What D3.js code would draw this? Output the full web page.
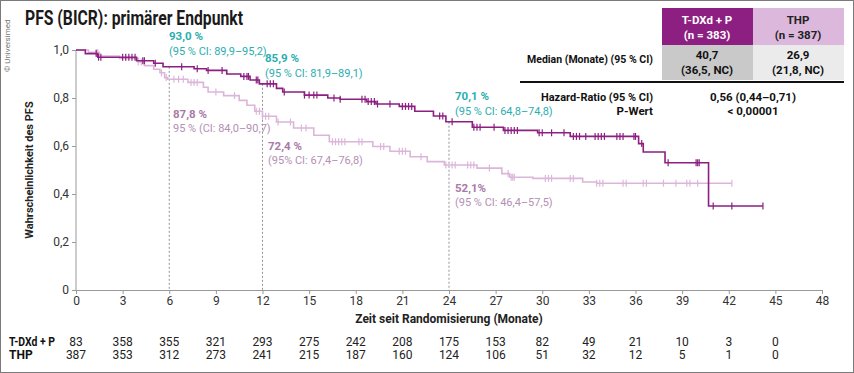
<!DOCTYPE html>
<html>
<head>
<meta charset="utf-8">
<script src="https://cdn.jsdelivr.net/npm/d3@7"></script>
<style>
  body { margin: 0; background: #fff; }
  svg { font-family: Roboto, "Noto Sans", sans-serif; display: block; }
</style>
</head>
<body>
<svg id="chart"></svg>
<script>
const width = 854;
const height = 373;

// KM steps: time (months) and survival after the drop
const tdxdTimes = [0.6, 1.4, 3.9, 5.0, 5.6, 7.6, 8.4, 9.7, 10.6, 11.2, 11.8, 12.9, 13.3, 14.7, 16.2, 17.0, 18.7, 19.3, 20.8, 21.8, 23.0, 23.8, 25.5, 27.5, 29.7, 31.8, 36.2, 36.5, 37.9, 40.7];
const tdxdSurv  = [0.985, 0.97, 0.955, 0.945, 0.93, 0.922, 0.915, 0.9, 0.89, 0.875, 0.859, 0.84, 0.825, 0.812, 0.80, 0.795, 0.785, 0.775, 0.765, 0.745, 0.725, 0.701, 0.678, 0.665, 0.655, 0.64, 0.61, 0.575, 0.53, 0.35];
const tdxdEnd = 44.2;
const tdxdCensor = [1.3, 1.45, 1.6, 3.0, 3.2, 3.4, 3.6, 3.8, 4.3, 4.4, 5.1, 6.8, 7.8, 8.5, 9.4, 10.8, 11.0, 11.1, 11.6, 11.7, 12.3, 12.5, 12.7, 13.4, 14.7, 15.0, 15.3, 15.5, 16.6, 17.0, 18.4, 18.6, 18.8, 19.0, 19.2, 19.4, 20.2, 21.0, 21.2, 21.4, 21.6, 23.4, 23.6, 24.2, 25.6, 25.8, 26.0, 26.9, 27.6, 27.8, 28.0, 28.2, 28.4, 29.8, 30.0, 30.6, 31.4, 32.0, 32.2, 32.4, 32.8, 33.4, 33.6, 33.8, 34.0, 34.8, 35.0, 35.2, 35.9, 36.0, 36.4, 38.1, 39.9, 40.0, 40.1, 41.0, 42.2, 44.2];

const thpTimes = [0.8, 1.5, 2.8, 4.0, 4.4, 5.0, 5.4, 5.7, 5.9, 7.2, 8.2, 8.5, 9.5, 10.5, 11.0, 11.5, 12.0, 12.9, 14.0, 15.3, 16.3, 19.1, 20.2, 21.5, 22.6, 23.7, 25.8, 27.4, 27.9, 29.4, 32.6, 33.5];
const thpSurv  = [0.99, 0.975, 0.965, 0.95, 0.935, 0.92, 0.905, 0.885, 0.878, 0.865, 0.845, 0.825, 0.81, 0.79, 0.77, 0.745, 0.724, 0.70, 0.675, 0.645, 0.618, 0.598, 0.578, 0.555, 0.535, 0.521, 0.508, 0.485, 0.47, 0.465, 0.45, 0.445];
const thpEnd = 42.2;
const thpCensor = [1.3, 1.4, 4.0, 4.2, 5.5, 5.8, 6.3, 6.6, 6.9, 7.4, 7.6, 7.8, 9.0, 10.2, 11.6, 11.8, 12.0, 12.2, 12.4, 13.0, 13.8, 14.5, 14.8, 16.5, 16.7, 16.9, 17.1, 17.3, 18.2, 18.4, 19.6, 19.8, 20.8, 21.0, 21.2, 22.2, 23.8, 24.2, 24.4, 25.2, 25.4, 25.6, 26.6, 27.8, 28.0, 28.1, 28.2, 30.2, 30.4, 30.6, 31.8, 32.0, 33.5, 33.7, 33.9, 35.2, 35.4, 36.5, 36.7, 37.8, 38.6, 39.3, 39.5, 40.0, 42.2];

// ticks and number at risk
const xTicks = [0, 3, 6, 9, 12, 15, 18, 21, 24, 27, 30, 33, 36, 39, 42, 45, 48];
const yTicks = [0, 0.2, 0.4, 0.6, 0.8, 1.0];
const yTickLabels = ["0", "0,2", "0,4", "0,6", "0,8", "1,0"];
const riskTimes = [0, 3, 6, 9, 12, 15, 18, 21, 24, 27, 30, 33, 36, 39, 42, 45];
const riskTdxd = [83, 358, 355, 321, 293, 275, 242, 208, 175, 153, 82, 49, 21, 10, 3, 0];
const riskThp = [387, 353, 312, 273, 241, 215, 187, 160, 124, 106, 51, 32, 12, 5, 1, 0];

// landmark annotations
const landmarks = [6, 12, 24];
const tdxdLabels = ["93,0 %", "85,9 %", "70,1 %"];
const tdxdCI = ["(95 % CI: 89,9–95,2)", "(95 % CI: 81,9–89,1)", "(95 % CI: 64,8–74,8)"];
const thpLabels = ["87,8 %", "72,4 %", "52,1%"];
const thpCI = ["95 % (CI: 84,0–90,7)", "(95% CI: 67,4–76,8)", "(95 % CI: 46,4–57,5)"];

const darkCol = "#8c1f80";
const lightCol = "#dcb6da";
const teal = "#2aaeb0";
const lightText = "#a97aa8";
const lightCI = "#b58fb4";

const svg = d3.select("#chart").attr("width", width).attr("height", height);

const x = d3.scaleLinear().domain([0, 48]).range([76, 822]);
const y = d3.scaleLinear().domain([0, 1]).range([290, 50]);

// frame
svg.append("rect").attr("x", 0.5).attr("y", 0.5).attr("width", width - 1).attr("height", height - 1)
  .attr("fill", "none").attr("stroke", "#7a7a7a");

svg.append("text").attr("transform", "translate(10,72) rotate(-90)")
  .attr("font-size", 8).attr("fill", "#777").text("© Universimed");

svg.append("text").attr("x", 25).attr("y", 25).attr("font-size", 20).attr("font-weight", "bold")
  .attr("fill", "#1a1a1a").attr("textLength", 218).attr("lengthAdjust", "spacingAndGlyphs")
  .text("PFS (BICR): primärer Endpunkt");

// axes
const yAxis = svg.append("g").attr("transform", "translate(76,0)")
  .call(d3.axisLeft(y).tickValues(yTicks).tickSize(4).tickPadding(3)
    .tickFormat((d, i) => yTickLabels[i]));
const xAxis = svg.append("g").attr("transform", "translate(0,290)")
  .call(d3.axisBottom(x).tickValues(xTicks).tickSize(4).tickPadding(2));
[xAxis, yAxis].forEach(a => {
  a.select(".domain").attr("stroke", "#999");
  a.selectAll(".tick line").attr("stroke", "#999");
  a.selectAll("text").attr("font-size", 12).attr("fill", "#333").attr("font-family", "Roboto, sans-serif");
});
yAxis.select(".domain").attr("d", "M0,290V50");

svg.append("text").attr("transform", "translate(33,170) rotate(-90)").attr("text-anchor", "middle")
  .attr("font-size", 11).attr("font-weight", "bold").attr("fill", "#222").text("Wahrscheinlichkeit des PFS");
svg.append("text").attr("x", 449).attr("y", 323).attr("text-anchor", "middle")
  .attr("font-size", 12).attr("font-weight", "bold").attr("fill", "#222").text("Zeit seit Randomisierung (Monate)");

// landmark dotted lines
const tdxdAt = t => { let s = 1; tdxdTimes.forEach((tt, i) => { if (tt <= t) s = tdxdSurv[i]; }); return s; };
const thpAt = t => { let s = 1; thpTimes.forEach((tt, i) => { if (tt <= t) s = thpSurv[i]; }); return s; };

svg.append("g").selectAll("line").data(landmarks).join("line")
  .attr("x1", d => x(d)).attr("x2", d => x(d))
  .attr("y1", d => y(tdxdAt(d))).attr("y2", 290)
  .attr("stroke", "#777").attr("stroke-width", 0.8).attr("stroke-dasharray", "2,2");

// curves
const line = d3.line().x(d => x(d[0])).y(d => y(d[1])).curve(d3.curveStepAfter);
function drawCurve(times, surv, end, censor, col, at) {
  const pts = [[0, 1]].concat(times.map((t, i) => [t, surv[i]]));
  pts.push([end, surv[surv.length - 1]]);
  svg.append("path").datum(pts).attr("d", line).attr("fill", "none")
    .attr("stroke", col).attr("stroke-width", 1.6);
  svg.append("g").selectAll("line").data(censor).join("line")
    .attr("x1", d => x(d)).attr("x2", d => x(d))
    .attr("y1", d => y(at(d)) - 3.5).attr("y2", d => y(at(d)) + 3.5)
    .attr("stroke", col).attr("stroke-width", 1.2);
}
drawCurve(thpTimes, thpSurv, thpEnd, thpCensor, lightCol, thpAt);
drawCurve(tdxdTimes, tdxdSurv, tdxdEnd, tdxdCensor, darkCol, tdxdAt);

// annotations
const tdxdPos = [[169, 40], [265, 62], [455, 100]];
const thpPos = [[173, 118], [268, 150], [455, 192]];
landmarks.forEach((d, i) => {
  svg.append("text").attr("x", tdxdPos[i][0]).attr("y", tdxdPos[i][1]).attr("font-size", 11.5)
    .attr("font-weight", "bold").attr("fill", teal).text(tdxdLabels[i]);
  svg.append("text").attr("x", tdxdPos[i][0]).attr("y", tdxdPos[i][1] + 15).attr("font-size", 11)
    .attr("fill", teal).text(tdxdCI[i]);
  svg.append("text").attr("x", thpPos[i][0]).attr("y", thpPos[i][1]).attr("font-size", 11.5)
    .attr("font-weight", "bold").attr("fill", lightText).text(thpLabels[i]);
  svg.append("text").attr("x", thpPos[i][0]).attr("y", thpPos[i][1] + 14).attr("font-size", 11)
    .attr("fill", lightCI).text(thpCI[i]);
});

// table top right
const tbl = svg.append("g");
tbl.append("rect").attr("x", 662).attr("y", 8).attr("width", 91).attr("height", 37).attr("fill", "#8e1f82");
tbl.append("rect").attr("x", 753).attr("y", 8).attr("width", 91).attr("height", 37).attr("fill", "#dcb8dc");
tbl.append("rect").attr("x", 662).attr("y", 45).attr("width", 91).attr("height", 35).attr("fill", "#c9c9c9");
tbl.append("rect").attr("x", 753).attr("y", 45).attr("width", 91).attr("height", 35).attr("fill", "#ebebeb");
tbl.append("line").attr("x1", 520).attr("x2", 844).attr("y1", 82).attr("y2", 82)
  .attr("stroke", "#111").attr("stroke-width", 2);
const cell = (tx, ty, s, col, anchor, bold) => tbl.append("text").attr("x", tx).attr("y", ty)
  .attr("text-anchor", anchor).attr("font-size", 11.5).attr("font-weight", bold ? "bold" : "normal")
  .attr("fill", col).text(s);
cell(707, 24, "T-DXd + P", "#fff", "middle", true);
cell(707, 39, "(n = 383)", "#fff", "middle", true);
cell(798, 24, "THP", "#222", "middle", true);
cell(798, 39, "(n = 387)", "#222", "middle", true);
cell(653, 63, "Median (Monate) (95 % CI)", "#111", "end", true).attr("textLength", 126).attr("lengthAdjust", "spacingAndGlyphs");
cell(707, 59, "40,7", "#111", "middle", true);
cell(707, 74, "(36,5, NC)", "#111", "middle", true);
cell(798, 59, "26,9", "#111", "middle", true);
cell(798, 74, "(21,8, NC)", "#111", "middle", true);
cell(653, 101, "Hazard-Ratio (95 % CI)", "#111", "end", true).attr("textLength", 112).attr("lengthAdjust", "spacingAndGlyphs");
cell(653, 115, "P-Wert", "#111", "end", true);
cell(753, 101, "0,56 (0,44–0,71)", "#111", "middle", true);
cell(753, 115, "< 0,00001", "#111", "middle", true);

// number at risk
svg.append("text").attr("x", 9).attr("y", 346).attr("font-size", 12).attr("font-weight", "bold")
  .attr("fill", "#111").attr("textLength", 46).attr("lengthAdjust", "spacingAndGlyphs").text("T-DXd + P");
svg.append("text").attr("x", 9).attr("y", 359).attr("font-size", 12).attr("font-weight", "bold")
  .attr("fill", "#111").text("THP");
svg.append("g").selectAll("text").data(riskTimes).join("text")
  .attr("x", d => x(d)).attr("y", 346).attr("text-anchor", "middle").attr("font-size", 12)
  .attr("fill", "#222").text((d, i) => riskTdxd[i]);
svg.append("g").selectAll("text").data(riskTimes).join("text")
  .attr("x", d => x(d)).attr("y", 359).attr("text-anchor", "middle").attr("font-size", 12)
  .attr("fill", "#222").text((d, i) => riskThp[i]);
</script>
</body>
</html>
